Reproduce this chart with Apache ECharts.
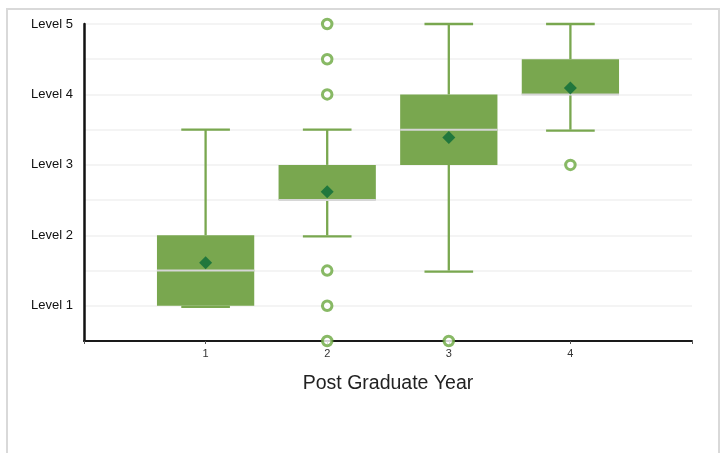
<!DOCTYPE html>
<html>
<head>
<meta charset="utf-8">
<script src="https://cdn.jsdelivr.net/npm/echarts@6/dist/echarts.min.js"></script>
<style>
html,body{margin:0;padding:0;background:#fff;}
#chart{width:725px;height:453px;}
</style>
</head>
<body>
<div id="chart"></div>
<script>
// Axis categories (blank ends pad the axis so boxes sit at 1..4)
const axisCategories = ['', '1', '2', '3', '4', ' '];
const categories = ['1', '2', '3', '4'];
const whiskerLow = [1, 2, 1.5, 3.5];
const q1 = [1, 2.5, 3, 4];
const median = [1.5, 2.5, 3.5, 4];
const q3 = [2, 3, 4, 4.5];
const whiskerHigh = [3.5, 3.5, 5, 5];
const means = [1.61, 2.62, 3.39, 4.09];
const outliers = [[], [5, 4.5, 4, 1.5, 1, 0.5], [0.5], [3]];
const yLabelPrefix = 'Level ';
const xTitle = 'Post Graduate Year';

const GREEN = '#79a74f';
const RING = '#6aa83e';
const DARK = '#0b6b38';

const boxData = categories.map((c, i) => [c, whiskerLow[i], q1[i], median[i], q3[i], whiskerHigh[i]]);
const meanData = categories.map((c, i) => [c, means[i]]);
const outlierData = [];
categories.forEach((c, i) => outliers[i].forEach(v => outlierData.push([c, v])));

const chart = echarts.init(document.getElementById('chart'));
chart.setOption({
  animation: false,
  backgroundColor: '#fff',
  graphic: [{
    type: 'rect', z: -10, silent: true,
    shape: { x: 7, y: 9, width: 712, height: 470 },
    style: { fill: 'none', stroke: '#d9d9d9', lineWidth: 2 }
  }],
  grid: { left: 84, right: 33, top: 24, bottom: 112 },
  xAxis: {
    type: 'category',
    data: axisCategories,
    boundaryGap: false,
    axisLine: { lineStyle: { color: '#1a1a1a', width: 2 } },
    axisTick: { show: true, length: 3, lineStyle: { color: '#555', width: 1 } },
    axisLabel: { color: '#333', fontSize: 11, margin: 7, fontFamily: 'Liberation Sans' },
    splitLine: { show: false },
    name: xTitle,
    nameLocation: 'middle',
    nameGap: 33,
    nameTextStyle: { color: '#222', fontSize: 19.5, fontFamily: 'Liberation Sans' }
  },
  yAxis: {
    type: 'value',
    min: 0.5, max: 5, interval: 0.5,
    axisLine: { show: true, lineStyle: { color: '#111', width: 2.5 } },
    axisTick: { show: false },
    axisLabel: {
      color: '#111', fontSize: 13, margin: 11, fontFamily: 'Liberation Sans',
      formatter: v => Number.isInteger(v) ? yLabelPrefix + v : ''
    },
    splitLine: { show: true, lineStyle: { color: '#f4f4f4', width: 2 } }
  },
  series: [
    {
      type: 'custom',
      data: boxData,
      encode: { x: 0, y: [1, 2, 3, 4, 5] },
      z: 3,
      renderItem: function (params, api) {
        const x = api.value(0);
        const lo = api.coord([x, api.value(1)]);
        const b1 = api.coord([x, api.value(2)]);
        const md = api.coord([x, api.value(3)]);
        const b3 = api.coord([x, api.value(4)]);
        const hi = api.coord([x, api.value(5)]);
        const band = api.size([1, 0])[0];
        const bw = band * 0.8, cw = band * 0.4;
        const cx = lo[0];
        const ls = { stroke: GREEN, lineWidth: 2.3 };
        return {
          type: 'group',
          children: [
            { type: 'line', shape: { x1: cx, y1: b3[1], x2: cx, y2: hi[1] }, style: ls },
            { type: 'line', shape: { x1: cx, y1: b1[1], x2: cx, y2: lo[1] }, style: ls },
            { type: 'line', shape: { x1: cx - cw / 2, y1: hi[1], x2: cx + cw / 2, y2: hi[1] }, style: ls },
            { type: 'line', shape: { x1: cx - cw / 2, y1: lo[1] + 1, x2: cx + cw / 2, y2: lo[1] + 1 }, style: ls },
            { type: 'rect', shape: { x: cx - bw / 2, y: b3[1], width: bw, height: b1[1] - b3[1] }, style: { fill: GREEN } },
            { type: 'line', shape: { x1: cx - bw / 2, y1: md[1], x2: cx + bw / 2, y2: md[1] }, style: { stroke: '#d6d6d6', lineWidth: 2 } }
          ]
        };
      }
    },
    {
      type: 'scatter',
      data: meanData,
      symbol: 'diamond',
      symbolSize: 13,
      z: 5,
      itemStyle: { color: DARK }
    },
    {
      type: 'scatter',
      data: outlierData,
      symbol: 'circle',
      symbolSize: 9.5,
      clip: false,
      z: 5,
      itemStyle: { color: '#fff', borderColor: RING, borderWidth: 3 }
    }
  ]
});
</script>
</body>
</html>
